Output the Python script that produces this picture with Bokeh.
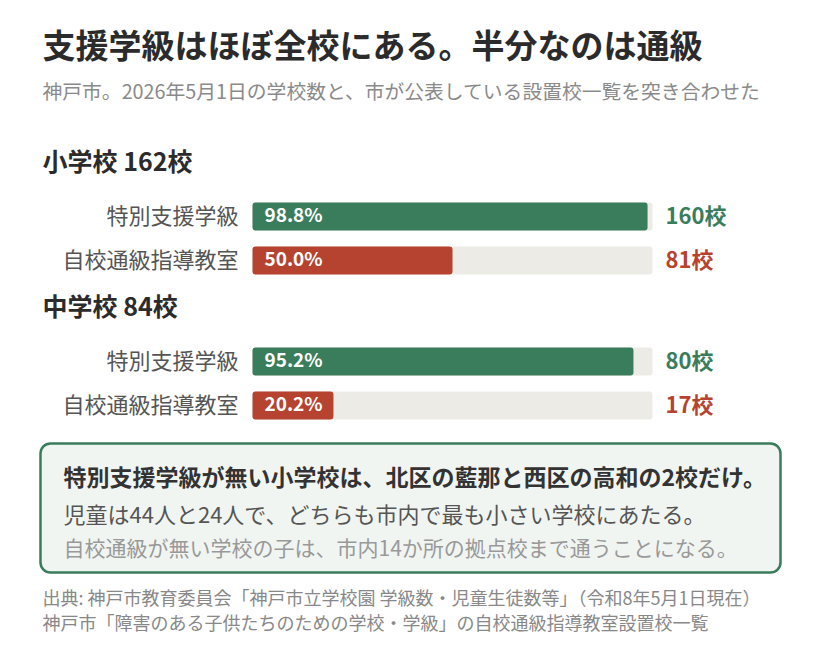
from bokeh.core.properties import value
from bokeh.embed import file_html
from bokeh.models import ColumnDataSource, Range1d
from bokeh.plotting import figure
from bokeh.resources import INLINE

#-------------- data ----------------#
school_types = ["小学校", "中学校"]
school_totals = [162, 84]
class_types = ["特別支援学級", "自校通級指導教室"]
special_counts = [160, 80]      # 特別支援学級がある学校数
tsukyu_counts = [81, 17]        # 自校通級指導教室がある学校数

title = "支援学級はほぼ全校にある。半分なのは通級"
subtitle = "神戸市。2026年5月1日の学校数と、市が公表している設置校一覧を突き合わせた"
note_lines = [
    "特別支援学級が無い小学校は、北区の藍那と西区の高和の2校だけ。",
    "児童は44人と24人で、どちらも市内で最も小さい学校にあたる。",
    "自校通級が無い学校の子は、市内14か所の拠点校まで通うことになる。",
]
source_lines = [
    "出典: 神戸市教育委員会「神戸市立学校園 学級数・児童生徒数等」（令和8年5月1日現在）",
    "神戸市「障害のある子供たちのための学校・学級」の自校通級指導教室設置校一覧",
]
#------------------------------------#

FONT = value("Noto Sans CJK JP")
GREEN = "#3a7d5c"
RED = "#b5432f"
TRACK = "#ecebe6"

BAR_X0 = 252
BAR_W = 400
BAR_H = 28
DY = -3                         # CJK "middle" sits a bit low, lift texts
group_y = [162, 307]            # group heading centres
row_off = [54, 98]              # row centres below heading

#------------- data setup ------------#
rows = dict(y=[], left=[], right=[], color=[], label=[], pct=[], count=[])
heads = dict(y=[], text=[])
for g, (name, total) in enumerate(zip(school_types, school_totals)):
    heads["y"].append(group_y[g] + DY)
    heads["text"].append(f"{name} {total}校")
    for k, counts in enumerate([special_counts, tsukyu_counts]):
        share = counts[g] / total
        rows["y"].append(group_y[g] + row_off[k])
        rows["left"].append(BAR_X0)
        rows["right"].append(BAR_X0 + BAR_W * share)
        rows["color"].append(GREEN if k == 0 else RED)
        rows["label"].append(class_types[k])
        rows["pct"].append(f"{share * 100:.1f}%")
        rows["count"].append(f"{counts[g]}校")
rows["top"] = [y - BAR_H / 2 for y in rows["y"]]
rows["bottom"] = [y + BAR_H / 2 for y in rows["y"]]
rows["ty"] = [y + DY for y in rows["y"]]
rows["track_right"] = [BAR_X0 + BAR_W] * len(rows["y"])
src = ColumnDataSource(rows)
#-------------------------------------#

# data units == screen pixels
p = figure(width=804, height=641, x_range=Range1d(0, 804), y_range=Range1d(641, 0),
           output_backend="svg", toolbar_location=None, min_border=0)
p.axis.visible = False
p.grid.visible = False
p.outline_line_color = None
p.background_fill_color = "white"

# title + subtitle
p.text(x=[42], y=[46 + DY], text=[title], text_font=FONT, text_font_size="33px",
       text_font_style="bold", text_color="#2b2b2b", text_baseline="middle")
p.text(x=[42], y=[93 + DY], text=[subtitle], text_font=FONT, text_font_size="19.8px",
       text_color="#8a8a8a", text_baseline="middle")

# group headings
p.text(x=[42] * 2, y=heads["y"], text=heads["text"], text_font=FONT, text_font_size="25px",
       text_font_style="bold", text_color="#2b2b2b", text_baseline="middle")

# bars
p.quad(left="left", right="track_right", top="top", bottom="bottom", source=src,
       fill_color=TRACK, line_color=None, border_radius=3)
p.quad(left="left", right="right", top="top", bottom="bottom", source=src,
       fill_color="color", line_color=None, border_radius=3)
p.text(x="left", y="ty", text="pct", source=src, x_offset=12, text_font=FONT,
       text_font_size="19px", text_font_style="bold", text_color="white", text_baseline="middle")
p.text(x=BAR_X0 - 14, y="ty", text="label", source=src, text_font=FONT, text_font_size="22px",
       text_color="#555555", text_align="right", text_baseline="middle")
p.text(x=BAR_X0 + BAR_W + 13, y="ty", text="count", source=src, text_font=FONT,
       text_font_size="22px", text_font_style="bold", text_color="color", text_baseline="middle")

# note box
p.quad(left=[40], right=[780], top=[443], bottom=[572], fill_color="#f1f5f2",
       line_color=GREEN, line_width=2.5, border_radius=10)
p.text(x=[63], y=[478 + DY], text=[note_lines[0]], text_font=FONT, text_font_size="23px",
       text_font_style="bold", text_color="#333333", text_baseline="middle")
p.text(x=[63], y=[515 + DY], text=[note_lines[1]], text_font=FONT, text_font_size="22px",
       text_color="#555555", text_baseline="middle")
p.text(x=[63], y=[549 + DY], text=[note_lines[2]], text_font=FONT, text_font_size="21px",
       text_color="#999999", text_baseline="middle")

# source
p.text(x=[42] * 2, y=[599 + DY, 624 + DY], text=source_lines, text_font=FONT,
       text_font_size="18px", text_color="#888888", text_baseline="middle")

open("out.html", "w").write(file_html(p, INLINE))
